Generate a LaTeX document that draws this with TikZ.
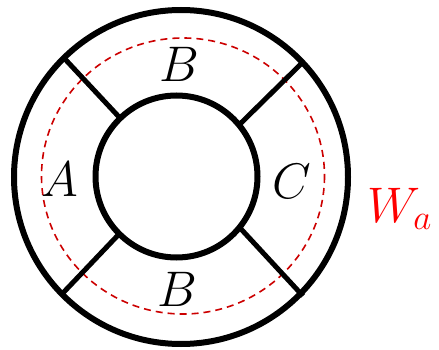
\RequirePackage{fix-cm}
\documentclass[tikz,border=0pt]{standalone}
\begin{document}
\begin{tikzpicture}[x=1pt,y=-1pt,
  ring/.style={draw=black,line width=6pt},
  spoke/.style={draw=black,line width=5pt},
  wall/.style={draw=red!80!black,line width=1.6pt,dash pattern=on 7pt off 5pt},
  lbl/.style={inner sep=0pt,font=\fontsize{50}{60}\selectfont}]
\useasboundingbox (0,0) rectangle (439,350);
\coordinate (oc) at (181,177);
\coordinate (ic) at (176.5,176.5);
\coordinate (dc) at (183,176);
\draw[wall] (dc) ellipse [x radius=141.5, y radius=138];
\draw[ring] (oc) circle [radius=167];
\draw[ring] (ic) circle [radius=81];
\coordinate (tlo) at (64,58);  \coordinate (tli) at (120,118);
\coordinate (tro) at (303,62); \coordinate (tri) at (240,124);
\coordinate (blo) at (62,294); \coordinate (bli) at (121,232);
\coordinate (bro) at (303,296); \coordinate (bri) at (241,229);
\draw[spoke] (tlo) -- (tli);
\draw[spoke] (tro) -- (tri);
\draw[spoke] (blo) -- (bli);
\draw[spoke] (bro) -- (bri);
\node[lbl] (A) at (60,179) {$A$};
\node[lbl] (Bt) at (179.5,64.5) {$B$};
\node[lbl] (Bb) at (177,289.5) {$B$};
\node[lbl] (C) at (292,181) {$C$};
\node[lbl,anchor=base west,text=red] (W) at (367,222) {$W_a$};
\end{tikzpicture}
\end{document}
